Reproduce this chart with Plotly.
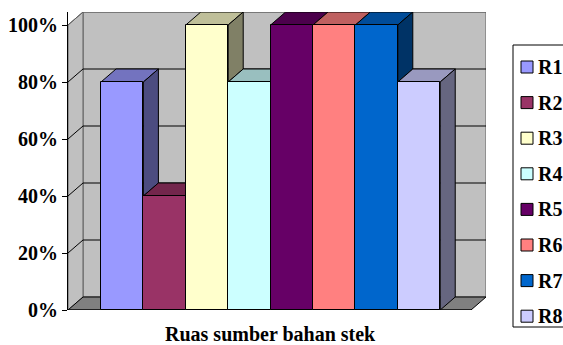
import plotly.graph_objects as go

# Series shown in the chart (one category, eight segments)
series = ["R1", "R2", "R3", "R4", "R5", "R6", "R7", "R8"]
values = [80, 40, 100, 80, 100, 100, 100, 80]
colors = ["#9999FF", "#993366", "#FFFFCC", "#CCFFFF",
          "#660066", "#FF8080", "#0066CC", "#CCCCFF"]
tick_values = [0, 20, 40, 60, 80, 100]
tick_labels = ["0%", "20%", "40%", "60%", "80%", "100%"]
x_title = "Ruas sumber bahan stek"

# Pseudo-3D geometry (in axis units)
DX = 0.354      # depth offset along x
DY = 4.56       # depth offset along y (percent)
X0, X1 = -1.278, 8.58
WALL = "#C0C0C0"
FLOOR = "#808080"
EDGE = "#606060"
FONT = dict(family="Liberation Serif", size=20, color="black", weight="bold")


def shade(hex_color, f):
    r, g, b = (int(hex_color[i:i + 2], 16) for i in (1, 3, 5))
    return "rgb({},{},{})".format(round(r * f), round(g * f), round(b * f))


def poly(pts, fill, line="black", width=1, layer="below"):
    path = "M " + " L ".join("{},{}".format(x, y) for x, y in pts) + " Z"
    return dict(type="path", path=path, xref="x", yref="y", fillcolor=fill,
                line=dict(color=line, width=width), layer=layer)


def seg(x0, y0, x1, y1, color="black", width=1):
    return dict(type="line", x0=x0, y0=y0, x1=x1, y1=y1, xref="x", yref="y",
                line=dict(color=color, width=width), layer="below")


fig = go.Figure()

for i, (name, v, c) in enumerate(zip(series, values, colors)):
    fig.add_trace(go.Bar(x=[i], y=[v], width=[1], name=name,
                         marker=dict(color=c, line=dict(color="black", width=1)),
                         showlegend=False))

shapes = []
top = max(tick_values)
# back wall, side wall, floor
shapes.append(poly([(X0 + DX, DY), (X1, DY), (X1, top + DY), (X0 + DX, top + DY)], WALL, EDGE))
shapes.append(poly([(X0, 0), (X0 + DX, DY), (X0 + DX, top + DY), (X0, top)], WALL, EDGE))
shapes.append(poly([(X0, 0), (X1 - DX, 0), (X1, DY), (X0 + DX, DY)], FLOOR, "black"))
# gridlines on the walls
for g in tick_values[1:-1]:
    shapes.append(seg(X0 + DX, g + DY, X1, g + DY))
    shapes.append(seg(X0, g, X0 + DX, g + DY))
shapes.append(seg(X0, top, X0 + DX, top + DY, EDGE))
shapes.append(seg(X0 + DX, top + DY, X1, top + DY, EDGE))
# front edge of the floor
shapes.append(seg(X0, 0, X1 - DX, 0))

# visible top and side faces of each column
for i, (v, c) in enumerate(zip(values, colors)):
    a = i + 0.5
    nxt = values[i + 1] if i + 1 < len(values) else 0
    if nxt > v:
        shapes.append(poly([(a - 1, v), (a, v), (a, v + DY), (a - 1 + DX, v + DY)],
                           shade(c, 0.75)))
    else:
        shapes.append(poly([(a - 1, v), (a, v), (a + DX, v + DY), (a - 1 + DX, v + DY)],
                           shade(c, 0.75)))
    if v > nxt:
        shapes.append(poly([(a, nxt), (a + DX, nxt + DY), (a + DX, v + DY), (a, v)],
                           shade(c, 0.5)))

# legend box, swatches and labels (paper coordinates)
PW, PH = 418.0, 298.0
def px(x):
    return (x - 68) / PW
def py(y):
    return (310 - y) / PH

shapes.append(dict(type="rect", xref="paper", yref="paper",
                   x0=px(513), x1=px(600), y0=py(327), y1=py(45),
                   line=dict(color="black", width=1), fillcolor="white", layer="above"))
annotations = []
for k, (name, c) in enumerate(zip(series, colors)):
    cy = 67 + k * 35.6
    shapes.append(dict(type="rect", xref="paper", yref="paper",
                       x0=px(521), x1=px(533), y0=py(cy + 6), y1=py(cy - 6),
                       fillcolor=c, line=dict(color="black", width=1), layer="above"))
    annotations.append(dict(text=name, xref="paper", yref="paper", x=px(536),
                            y=py(cy), xanchor="left", yanchor="middle",
                            showarrow=False, font=FONT))

annotations.append(dict(text=x_title, xref="paper", yref="paper", x=px(270),
                        y=py(334), xanchor="center", yanchor="middle",
                        showarrow=False, font=FONT))

fig.update_layout(
    width=563, height=345,
    margin=dict(l=68, r=77, t=12, b=35, autoexpand=False),
    paper_bgcolor="white", plot_bgcolor="white",
    barmode="overlay", bargap=0,
    shapes=shapes, annotations=annotations,
    xaxis=dict(range=[X0, X1], showgrid=False, zeroline=False, showline=False,
               showticklabels=False, ticks=""),
    yaxis=dict(range=[0, top + DY], tickvals=tick_values, ticktext=tick_labels,
               showgrid=False, zeroline=False, showline=True, linecolor="black",
               linewidth=1, ticks="outside", ticklen=5, tickcolor="black",
               tickfont=FONT),
    showlegend=False,
)

fig.write_html("out.html")
